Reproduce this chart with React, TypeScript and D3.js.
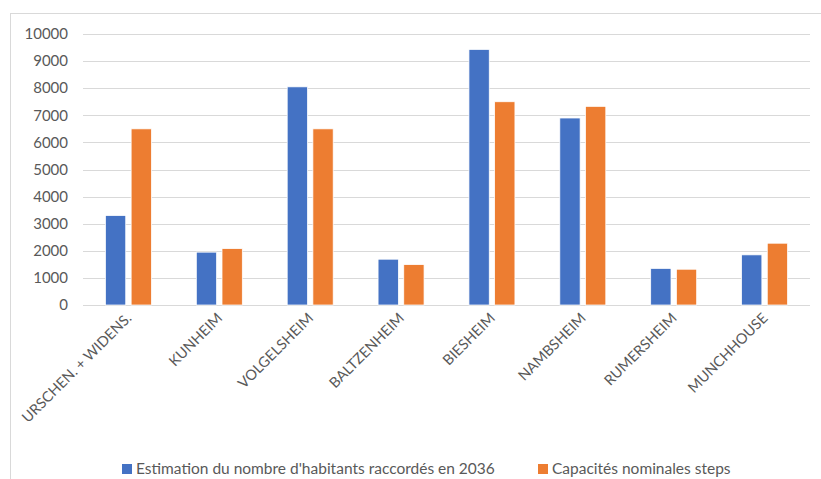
import * as d3 from "d3";

const categories = [
	"URSCHEN. + WIDENS.",
	"KUNHEIM",
	"VOLGELSHEIM",
	"BALTZENHEIM",
	"BIESHEIM",
	"NAMBSHEIM",
	"RUMERSHEIM",
	"MUNCHHOUSE",
];
const estimation = [3300, 1950, 8050, 1690, 9430, 6900, 1350, 1850];
const capacites = [6500, 2080, 6500, 1490, 7500, 7330, 1320, 2280];
const seriesNames = [
	"Estimation du nombre d'habitants raccordés en 2036",
	"Capacités nominales steps",
];
const seriesColors = ["#4472c4", "#ed7d31"];
const yTicks = [0, 1000, 2000, 3000, 4000, 5000, 6000, 7000, 8000, 9000, 10000];

const W = 821;
const H = 479;
const font = "Lato, 'Liberation Sans', sans-serif";

export default function App() {
	const left = 83;
	const right = 810;
	const top = 34;
	const bottom = 305;

	const x = d3
		.scaleBand<string>()
		.domain(categories)
		.range([left, right])
		.paddingInner(0.494)
		.paddingOuter(0.247);
	const inner = d3
		.scaleBand<number>()
		.domain([0, 1])
		.range([0, x.bandwidth()])
		.paddingInner(0.21);
	const y = d3.scaleLinear().domain([0, 10000]).range([bottom, top]);

	const series = [estimation, capacites];

	return (
		<div style={{ position: "fixed", left: 0, top: 0, background: "#fff" }}>
			<svg width={W} height={H} style={{ display: "block" }}>
				<rect x={0} y={0} width={W} height={H} fill="#fff" />
				{/* chart frame */}
				<rect
					x={10.5}
					y={13.5}
					width={W + 20}
					height={H + 20}
					fill="none"
					stroke="#d9d9d9"
				/>
				{/* grid + y ticks */}
				{yTicks.map((t) => (
					<g key={t}>
						<line
							x1={left}
							x2={right}
							y1={Math.round(y(t)) + 0.5}
							y2={Math.round(y(t)) + 0.5}
							stroke="#d9d9d9"
							strokeWidth={1}
						/>
						<text
							x={68}
							y={y(t)}
							dy="0.35em"
							textAnchor="end"
							fontFamily={font}
							fontSize={15}
							fill="#595959"
						>
							{t}
						</text>
					</g>
				))}
				{/* bars */}
				{categories.map((c, i) => (
					<g key={c} transform={`translate(${x(c)},0)`}>
						{series.map((s, j) => (
							<rect
								key={j}
								x={inner(j)}
								y={y(s[i])}
								width={inner.bandwidth()}
								height={bottom - y(s[i])}
								fill={seriesColors[j]}
								stroke="#fff"
								strokeWidth={0.75}
							/>
						))}
					</g>
				))}
				{/* category labels */}
				{categories.map((c) => {
					const cx = (x(c) as number) + x.bandwidth() / 2 + 4;
					const cy = 319;
					return (
						<text
							key={c}
							transform={`translate(${cx},${cy}) rotate(-45)`}
							textAnchor="end"
							fontFamily={font}
							fontSize={14.5}
							fill="#595959"
						>
							{c}
						</text>
					);
				})}
				{/* legend */}
				{[122, 538].map((lx, j) => (
					<g key={j}>
						<rect x={lx} y={464} width={10} height={10} fill={seriesColors[j]} />
						<text
							x={lx + 14}
							y={469}
							dy="0.35em"
							fontFamily={font}
							fontSize={15.5}
							fill="#595959"
						>
							{seriesNames[j]}
						</text>
					</g>
				))}
			</svg>
		</div>
	);
}
